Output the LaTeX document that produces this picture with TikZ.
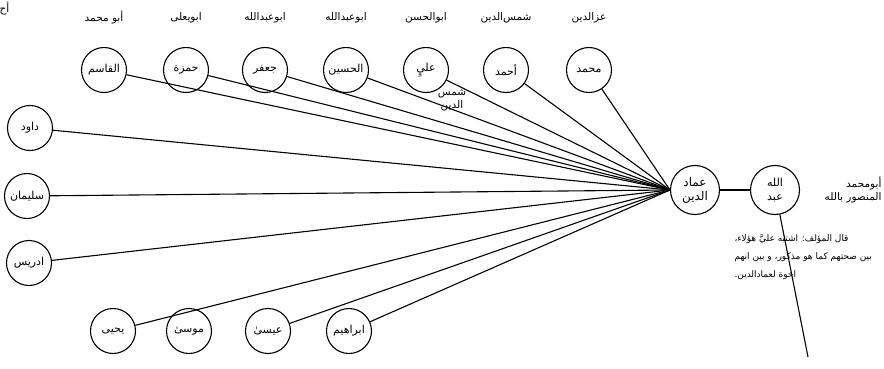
\documentclass[tikz,border=0pt]{standalone}
\usepackage{fontspec}
\TeXXeTstate=1
\newfontfamily\arabicfont[Script=Arabic]{DejaVu Sans}
\newcommand{\artxt}[1]{{\arabicfont\beginR #1\endR}}

\begin{document}
\begin{tikzpicture}[x=1pt, y=-1pt, line width=1.1pt,
        person/.style={circle, draw, minimum size=45pt, inner sep=0pt, font=\fontsize{11}{13}\selectfont},
        kunya/.style={font=\fontsize{10.5}{13}\selectfont, inner sep=1pt},
        link/.style={line width=1.1pt}]
    \useasboundingbox (0,0) rectangle (884,369);

    % 1. The two people on the right
    \node[person, minimum size=49pt, align=center, font=\fontsize{12}{14}\selectfont] (imad) at (695,190) {\artxt{عماد}\\\artxt{الدين}};
    \node[person, minimum size=49pt, align=center, font=\fontsize{11}{14}\selectfont] (abd) at (775,190) {\artxt{الله}\\\artxt{عبد}};
    \coordinate (tail) at (808,357);

    % 2. The top row of sons with their kunya above
    \node[person] (qasim) at (104,70) {\artxt{القاسم}};
    \node[person] (hamza) at (186,70) {\artxt{حمزة}};
    \node[person] (jafar) at (265,70) {\artxt{جعفر}};
    \node[person] (husayn) at (346,70) {\artxt{الحسين}};
    \node[person] (ali) at (426,70) {\artxt{عليٍ}};
    \node[person] (ahmad) at (506,70) {\artxt{أحمد}};
    \node[person] (muhammad) at (589,70) {\artxt{محمد}};

    \node[kunya] (kqasim) at (104,18) {\artxt{أبو محمد}};
    \node[kunya] (khamza) at (186,18) {\artxt{ابويعلى}};
    \node[kunya] (kjafar) at (265,18) {\artxt{ابوعبدالله}};
    \node[kunya] (khusayn) at (346,18) {\artxt{ابوعبدالله}};
    \node[kunya] (kali) at (426,18) {\artxt{ابوالحسن}};
    \node[kunya] (kahmad) at (506,18) {\artxt{شمس‌الدين}};
    \node[kunya] (kmuhammad) at (589,18) {\artxt{عزالدين}};
    \node[kunya, anchor=west] (kcut) at (-2,9) {\artxt{أح}};
    \node[kunya, align=center] (lali) at (452,100) {\artxt{شمس}\\\artxt{الدين}};

    % 3. The left column and the bottom row
    \node[person] (dawud) at (30,128) {\artxt{داود}};
    \node[person] (sulayman) at (27,196) {\artxt{سليمان}};
    \node[person] (idris) at (29,263) {\artxt{ادريس}};
    \node[person] (yahya) at (113,331) {\artxt{يحيى}};
    \node[person] (musa) at (189,331) {\artxt{موسىٰ}};
    \node[person] (isa) at (268,331) {\artxt{عيسىٰ}};
    \node[person] (ibrahim) at (349,331) {\artxt{ابراهيم}};

    % 4. Labels on the right
    \node[kunya, align=right, anchor=east] (kabd) at (883,190) {\artxt{أبومحمد}\\\artxt{المنصور بالله}};
    \node[kunya, font=\fontsize{9}{18}\selectfont, align=left, anchor=north west] (note) at (733,233)
        {\artxt{قال المؤلف: اشتبه عليَّ هؤلاء،}\\\artxt{بين صحتهم كما هو مذكور، و بين انهم}\\\artxt{اخوة لعمادالدين.}};

    % 5. The lines
    \foreach \son in {qasim,hamza,jafar,husayn,ali,ahmad,muhammad,dawud,sulayman,idris,yahya,isa,ibrahim}
        \draw[link] (\son) -- (imad.west);
    \draw[link] (imad) -- (abd);
    \draw[link] (abd) -- (tail);
\end{tikzpicture}
\end{document}
